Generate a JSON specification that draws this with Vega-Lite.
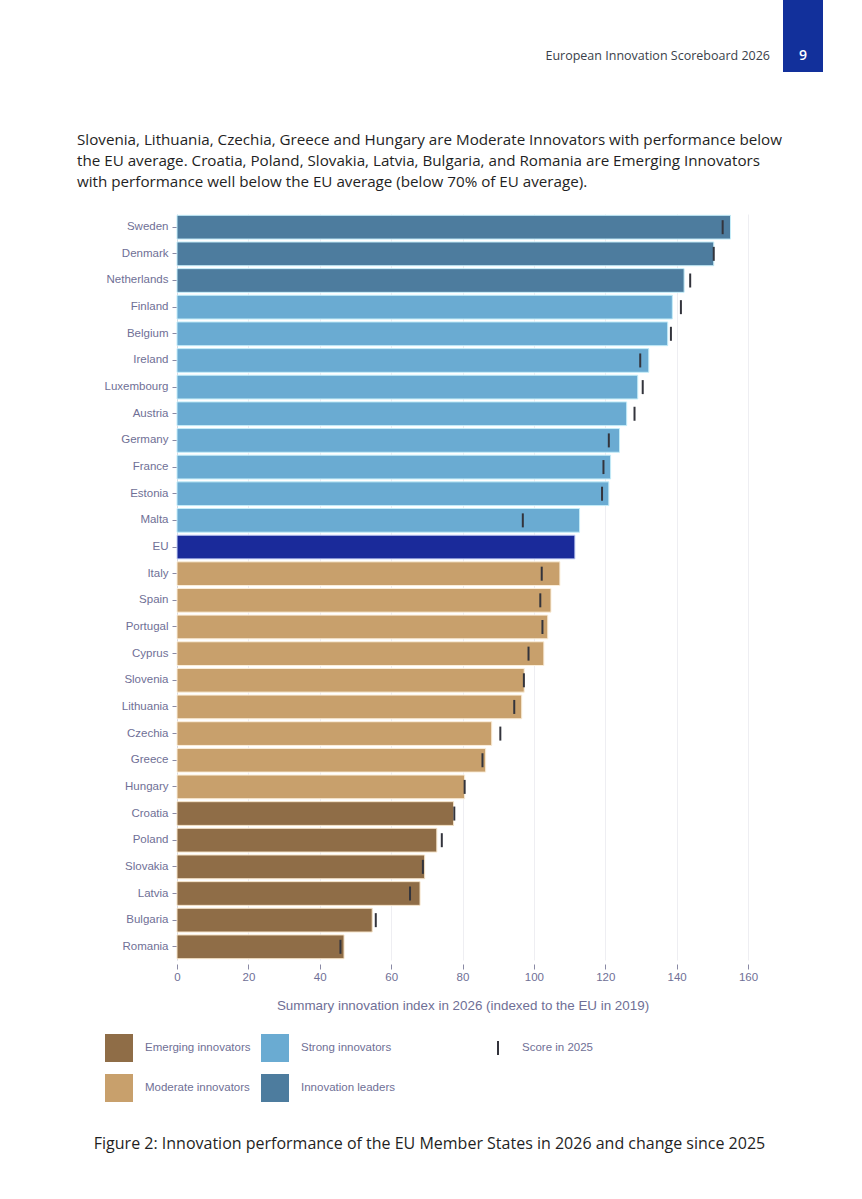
{
  "$schema": "https://vega.github.io/schema/vega-lite/v6.json",
  "description": "Innovation performance of the EU Member States in 2026 and change since 2025",
  "background": "#ffffff",
  "padding": { "left": 77, "top": 0, "right": 39, "bottom": 5 },
  "bounds": "flush",
  "spacing": 214,
  "vconcat": [
    {
      "bounds": "flush",
      "spacing": 0,
      "hconcat": [
        {
          "width": 606,
          "height": 72,
          "data": { "values": [{ "label": "European Innovation Scoreboard 2026", "pos": 1 }] },
          "mark": { "type": "text", "align": "right", "dx": -13, "dy": 20, "font": "Open Sans", "fontSize": 12.5, "color": "#3a3f4a" },
          "encoding": {
            "x": { "field": "pos", "type": "quantitative", "scale": { "domain": [0, 1] }, "axis": null },
            "text": { "field": "label" }
          }
        },
        {
          "width": 40,
          "height": 72,
          "view": { "fill": "#12309b", "stroke": null },
          "data": { "values": [{ "page": "9" }] },
          "mark": { "type": "text", "dy": 20, "font": "Open Sans", "fontSize": 14, "fontWeight": 600, "color": "#ffffff" },
          "encoding": { "text": { "field": "page" } }
        }
      ]
    },
    {
      "width": 571,
      "height": 746,
      "title": {
        "text": [
          "Slovenia, Lithuania, Czechia, Greece and Hungary are Moderate Innovators with performance below",
          "the EU average. Croatia, Poland, Slovakia, Latvia, Bulgaria, and Romania are Emerging Innovators",
          "with performance well below the EU average (below 70% of EU average)."
        ],
        "anchor": "start",
        "frame": "group",
        "dx": -100,
        "offset": 24,
        "font": "Open Sans",
        "fontSize": 15.2,
        "fontWeight": 400,
        "lineHeight": 21,
        "color": "#1f1f24"
      },
      "data": {
        "values": [
          { "country": "Sweden", "score2026": 155.1, "score2025": 152.9, "group": "Innovation leaders" },
          { "country": "Denmark", "score2026": 150.4, "score2025": 150.4, "group": "Innovation leaders" },
          { "country": "Netherlands", "score2026": 142.1, "score2025": 143.8, "group": "Innovation leaders" },
          { "country": "Finland", "score2026": 138.8, "score2025": 141.2, "group": "Strong innovators" },
          { "country": "Belgium", "score2026": 137.5, "score2025": 138.4, "group": "Strong innovators" },
          { "country": "Ireland", "score2026": 132.2, "score2025": 129.8, "group": "Strong innovators" },
          { "country": "Luxembourg", "score2026": 129.1, "score2025": 130.5, "group": "Strong innovators" },
          { "country": "Austria", "score2026": 126.0, "score2025": 128.2, "group": "Strong innovators" },
          { "country": "Germany", "score2026": 124.0, "score2025": 121.0, "group": "Strong innovators" },
          { "country": "France", "score2026": 121.5, "score2025": 119.5, "group": "Strong innovators" },
          { "country": "Estonia", "score2026": 121.0, "score2025": 119.1, "group": "Strong innovators" },
          { "country": "Malta", "score2026": 112.8, "score2025": 96.9, "group": "Strong innovators" },
          { "country": "EU", "score2026": 111.5, "score2025": null, "group": "EU" },
          { "country": "Italy", "score2026": 107.3, "score2025": 102.2, "group": "Moderate innovators" },
          { "country": "Spain", "score2026": 104.8, "score2025": 101.8, "group": "Moderate innovators" },
          { "country": "Portugal", "score2026": 103.9, "score2025": 102.4, "group": "Moderate innovators" },
          { "country": "Cyprus", "score2026": 102.8, "score2025": 98.5, "group": "Moderate innovators" },
          { "country": "Slovenia", "score2026": 97.3, "score2025": 97.2, "group": "Moderate innovators" },
          { "country": "Lithuania", "score2026": 96.6, "score2025": 94.5, "group": "Moderate innovators" },
          { "country": "Czechia", "score2026": 88.2, "score2025": 90.6, "group": "Moderate innovators" },
          { "country": "Greece", "score2026": 86.5, "score2025": 85.6, "group": "Moderate innovators" },
          { "country": "Hungary", "score2026": 80.6, "score2025": 80.6, "group": "Moderate innovators" },
          { "country": "Croatia", "score2026": 77.5, "score2025": 77.7, "group": "Emerging innovators" },
          { "country": "Poland", "score2026": 72.8, "score2025": 74.2, "group": "Emerging innovators" },
          { "country": "Slovakia", "score2026": 69.4, "score2025": 68.9, "group": "Emerging innovators" },
          { "country": "Latvia", "score2026": 68.1, "score2025": 65.3, "group": "Emerging innovators" },
          { "country": "Bulgaria", "score2026": 54.7, "score2025": 55.7, "group": "Emerging innovators" },
          { "country": "Romania", "score2026": 46.8, "score2025": 45.8, "group": "Emerging innovators" }
        ]
      },
      "encoding": {
        "y": {
          "field": "country",
          "type": "nominal",
          "sort": null,
          "title": null,
          "scale": { "paddingInner": 0.11, "paddingOuter": 0.05 },
          "axis": {
            "domainColor": "#d9d9e0",
            "tickColor": "#8a8aa5",
            "tickSize": 5,
            "labelPadding": 4,
            "labelFontSize": 11.5,
            "labelColor": "#6f6f96",
            "labelFont": "Liberation Sans"
          }
        }
      },
      "layer": [
        {
          "mark": { "type": "bar", "strokeWidth": 1 },
          "encoding": {
            "x": {
              "field": "score2026",
              "type": "quantitative",
              "scale": { "domain": [0, 160] },
              "title": "Summary innovation index in 2026 (indexed to the EU in 2019)",
              "axis": {
                "values": [0, 20, 40, 60, 80, 100, 120, 140, 160],
                "domain": false,
                "offset": 4,
                "grid": true,
                "gridColor": "#eeeef2",
                "tickColor": "#8a8aa5",
                "tickSize": 5,
                "labelFlush": false,
                "labelPadding": 2,
                "labelFontSize": 11.5,
                "labelColor": "#6f6f96",
                "labelFont": "Liberation Sans",
                "titleFont": "Liberation Sans",
                "titleFontSize": 13.4,
                "titleFontWeight": "normal",
                "titleColor": "#6f6f96",
                "titlePadding": 16
              }
            },
            "fill": {
              "field": "group",
              "type": "nominal",
              "scale": {
                "domain": ["Emerging innovators", "Moderate innovators", "Strong innovators", "Innovation leaders", "EU"],
                "range": ["#8f6d47", "#c8a06c", "#6aabd2", "#4d7c9e", "#1a2a9a"]
              },
              "legend": {
                "values": ["Emerging innovators", "Moderate innovators", "Strong innovators", "Innovation leaders"],
                "title": null,
                "orient": "none",
                "legendX": -72,
                "legendY": 1034,
                "columns": 2,
                "columnPadding": 10,
                "rowPadding": 12,
                "symbolType": "square",
                "symbolSize": 784,
                "symbolStrokeWidth": 0,
                "labelOffset": 12,
                "labelFontSize": 11.5,
                "labelColor": "#6f6f96",
                "labelFont": "Liberation Sans"
              }
            },
            "stroke": {
              "field": "group",
              "type": "nominal",
              "legend": null,
              "scale": {
                "domain": ["Emerging innovators", "Moderate innovators", "Strong innovators", "Innovation leaders", "EU"],
                "range": ["#f5e3c8", "#fbeeda", "#c4ecf8", "#c4ecf8", "#c9d3f5"]
              }
            }
          }
        },
        {
          "mark": { "type": "point", "filled": false, "size": 196, "strokeWidth": 2, "color": "#33343c", "opacity": 1 },
          "encoding": {
            "x": { "field": "score2025", "type": "quantitative" },
            "shape": {
              "datum": "Score in 2025",
              "type": "nominal",
              "scale": { "range": ["M0,-1L0,1"] },
              "legend": {
                "title": null,
                "orient": "none",
                "legendX": 313,
                "legendY": 1040,
                "symbolSize": 196,
                "symbolStrokeWidth": 2,
                "symbolStrokeColor": "#33343c",
                "labelOffset": 16,
                "labelFontSize": 11.5,
                "labelColor": "#6f6f96",
                "labelFont": "Liberation Sans"
              }
            }
          }
        }
      ]
    },
    {
      "width": 571,
      "height": 20,
      "data": { "values": [{ "caption": "Figure 2: Innovation performance of the EU Member States in 2026 and change since 2025" }] },
      "mark": { "type": "text", "dx": -33, "dy": -40, "font": "Open Sans", "fontSize": 16, "color": "#1f1f24" },
      "encoding": { "text": { "field": "caption" } }
    }
  ],
  "config": { "view": { "stroke": null } }
}
